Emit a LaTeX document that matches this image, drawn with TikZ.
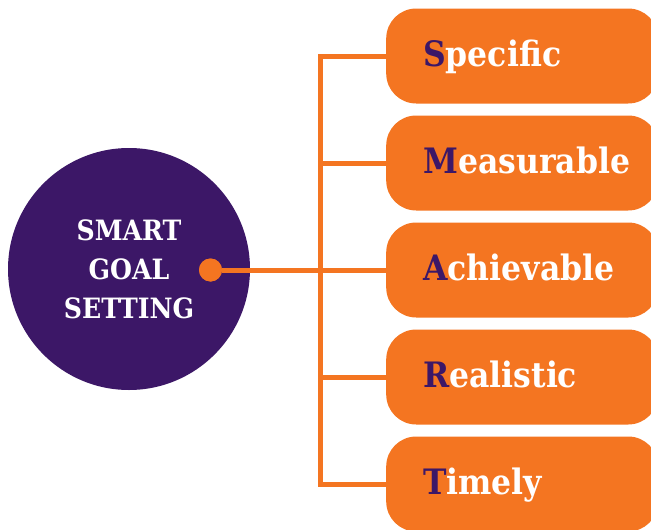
\documentclass[tikz,border=0pt]{standalone}
\usepackage{fontspec}
\setmainfont{DejaVu Serif Condensed}
\usetikzlibrary{positioning}
\definecolor{smartlila}{RGB}{60,23,103}
\definecolor{smartorange}{RGB}{244,117,33}

\begin{document}
\begin{tikzpicture}[x=1pt,y=-1pt,
  ziel/.style={circle,fill=smartlila,minimum size=242pt,inner sep=0pt,text=white,align=center,
    font=\bfseries\fontsize{28}{39}\selectfont},
  punkt/.style={circle,fill=smartorange,minimum size=23pt,inner sep=0pt},
  kasten/.style={rounded corners=30pt,fill=smartorange,anchor=west,minimum height=95pt,
    inner xsep=37pt,inner ysep=0pt,text width=198pt,align=left,text height=27pt,text depth=6pt,
    text=white,font=\bfseries\fontsize{35}{38}\selectfont},
  linie/.style={smartorange,line width=5pt}]
\useasboundingbox (0,0) rectangle (651,530);
\clip (0,0) rectangle (651,530);
%Kreis mit Titel und Punkt
\node[ziel] (goal) at (129,269) {SMART\\GOAL\\SETTING};
\node[punkt] (dot) at (210.5,270) {};
%Die fuenf Kaesten, Abstand 107
\foreach \buchst/\rest [count=\i] in {S/pecific,M/easurable,A/chievable,R/ealistic,T/imely}{
  \pgfmathsetmacro{\ypos}{56+107*(\i-1)}
  \node[kasten] (k\i) at (386,\ypos) {\textcolor{smartlila}{\buchst}\rest};
  \coordinate (v\i) at (320.5,\ypos);
}
%Verbindungen
\draw[linie] (k1.west) -- (v1) -- (v5) -- (k5.west);
\foreach \i in {2,4}{
  \draw[linie] (v\i) -- (k\i.west);
}
\draw[linie] (dot) -- (k3.west);
\node[punkt] at (dot) {};
\end{tikzpicture}
\end{document}
